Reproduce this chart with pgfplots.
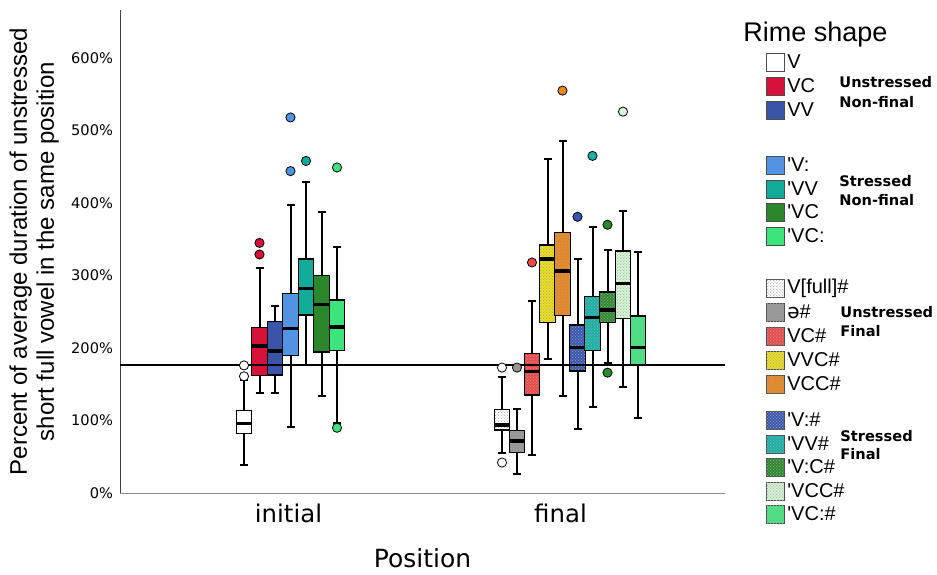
\documentclass[border=0pt]{standalone}
\usepackage{fontspec}
\setmainfont{Liberation Sans}
\newfontfamily\dejavu{DejaVu Sans}
\newfontfamily\legfont{Liberation Sans}
\usepackage{pgfplots}
\pgfplotsset{compat=1.18}
\usepgfplotslibrary{statistics}
\usetikzlibrary{patterns}

% box colours (non-final)
\definecolor{cVC}{RGB}{214,18,58}
\definecolor{cVV}{RGB}{58,84,168}
\definecolor{cVl}{RGB}{82,148,226}
\definecolor{cVVs}{RGB}{18,170,152}
\definecolor{cVCs}{RGB}{44,134,44}
\definecolor{cVCls}{RGB}{60,228,122}
% box colours (final)
\definecolor{cSchwa}{RGB}{150,150,150}
\definecolor{cVCf}{RGB}{240,72,72}
\definecolor{cVVC}{RGB}{236,222,24}
\definecolor{cVCC}{RGB}{234,134,26}
\definecolor{cVlf}{RGB}{54,86,180}
\definecolor{cVVf}{RGB}{20,178,168}
\definecolor{cVlC}{RGB}{42,138,42}
\definecolor{cVCCs}{RGB}{214,246,214}
\definecolor{cVClf}{RGB}{62,232,126}

% fine checker of dots, like the SPSS texture
\pgfdeclarepatternformonly{finedots}{\pgfqpoint{0pt}{0pt}}{\pgfqpoint{1.6pt}{1.6pt}}{\pgfqpoint{1.6pt}{1.6pt}}{%
  \pgfpathcircle{\pgfqpoint{0.4pt}{0.4pt}}{0.33pt}%
  \pgfpathcircle{\pgfqpoint{1.2pt}{1.2pt}}{0.33pt}%
  \pgfusepath{fill}}

\pgfplotsset{
  dotted box/.style={/pgfplots/boxplot/every box/.append style={postaction={pattern=finedots,pattern color=black!35}}},
  outl/.style={only marks,mark=*,mark size=2.3pt,
    mark options={draw=black,fill=#1,line width=0.4pt}},
}

\begin{document}
\begin{tikzpicture}
\path[use as bounding box] (0,0) rectangle (468.5pt,-287pt);
\begin{axis}[
  at={(60pt,-246.5pt)}, anchor=south west,
  x=0.5pt, y=0.3625pt,
  xmin=120, xmax=725, ymin=0, ymax=666,
  axis x line*=bottom, axis y line*=left,
  x axis line style={black!45,-}, y axis line style={black!75,-},
  major tick length=0pt,
  ytick={0,100,...,600},
  yticklabel={\pgfmathprintnumber{\tick}\%},
  /pgf/number format/assume math mode=true,
  yticklabel style={font=\dejavu\fontsize{7.3}{8}\selectfont},
  xtick={288.5,560.5}, xticklabels={initial,final},
  xticklabel style={font=\dejavu\fontsize{12.2}{14}\selectfont,yshift=-2pt},
  xlabel={Position},
  every axis x label/.style={at={(axis description cs:0.5,0)},anchor=center,
    yshift=-32.5pt,font=\dejavu\fontsize{12.5}{14}\selectfont},
  ylabel={Percent of average duration of unstressed\\short full vowel in the same position},
  every axis y label/.style={at={(axis description cs:-0.142,0.5)},rotate=90,anchor=center,
    align=center,font=\fontsize{12}{13.5}\selectfont},
  clip=false,
  boxplot/draw direction=y,
  boxplot/box extend=15.3,
  boxplot/whisker extend=8,
  boxplot/every box/.style={line width=0.6pt},
  boxplot/every median/.style={line width=1.6pt},
  boxplot/every whisker/.style={line width=1pt},
]
% initial
\addplot[draw=black,fill=white,boxplot prepared={draw position=244,
  lower whisker=38.6,lower quartile=82.3,median=96,upper quartile=113.5,upper whisker=156}] coordinates {};
\addplot[draw=black,fill=cVC,boxplot prepared={draw position=259.5,
  lower whisker=137.5,lower quartile=161.8,median=202.8,upper quartile=228.5,upper whisker=310.8}] coordinates {};
\addplot[draw=black,fill=cVV,boxplot prepared={draw position=275,
  lower whisker=137.5,lower quartile=162.8,median=195.9,upper quartile=236.3,upper whisker=258.4}] coordinates {};
\addplot[draw=black,fill=cVl,boxplot prepared={draw position=290.5,
  lower whisker=91.5,lower quartile=190,median=227,upper quartile=275.4,upper whisker=397}] coordinates {};
\addplot[draw=black,fill=cVVs,boxplot prepared={draw position=306,
  lower whisker=176.5,lower quartile=245.5,median=282.3,upper quartile=322.8,upper whisker=428.5}] coordinates {};
\addplot[draw=black,fill=cVCs,boxplot prepared={draw position=321.5,
  lower whisker=134.3,lower quartile=194.5,median=260.2,upper quartile=300.2,upper whisker=388}] coordinates {};
\addplot[draw=black,fill=cVCls,boxplot prepared={draw position=337,
  lower whisker=96,lower quartile=196.3,median=229,upper quartile=266.2,upper whisker=339.8}] coordinates {};
\addplot[outl=white] coordinates {(244,176)(244,161)};
\addplot[outl=cVC] coordinates {(259.5,345)(259.5,329)};
\addplot[outl=cVl] coordinates {(290.5,518)(290.5,444)};
\addplot[outl=cVVs] coordinates {(306,458)};
\addplot[outl=cVCls] coordinates {(337,449)(337,90)};
% final
\addplot[draw=black,fill=white,dotted box,boxplot prepared={draw position=502,
  lower whisker=55.6,lower quartile=86.9,median=93.8,upper quartile=115.4,upper whisker=160.5}] coordinates {};
\addplot[draw=black,fill=cSchwa,dotted box,boxplot prepared={draw position=517,
  lower whisker=26.2,lower quartile=55.6,median=71.7,upper quartile=86,upper whisker=116.3}] coordinates {};
\addplot[draw=black,fill=cVCf,dotted box,boxplot prepared={draw position=532,
  lower whisker=52.4,lower quartile=135.2,median=168,upper quartile=192.6,upper whisker=264.8}] coordinates {};
\addplot[draw=black,fill=cVVC,dotted box,boxplot prepared={draw position=547.5,
  lower whisker=184.4,lower quartile=234.9,median=322.8,upper quartile=342,upper whisker=460.2}] coordinates {};
\addplot[draw=black,fill=cVCC,dotted box,boxplot prepared={draw position=562.5,
  lower whisker=133.8,lower quartile=244.6,median=306.2,upper quartile=359.5,upper whisker=486}] coordinates {};
\addplot[draw=black,fill=cVlf,dotted box,boxplot prepared={draw position=577.5,
  lower whisker=87.8,lower quartile=168.3,median=200.9,upper quartile=231.7,upper whisker=322.8}] coordinates {};
\addplot[draw=black,fill=cVVf,dotted box,boxplot prepared={draw position=592.5,
  lower whisker=118.2,lower quartile=196.3,median=242.5,upper quartile=270.8,upper whisker=367.4}] coordinates {};
\addplot[draw=black,fill=cVlC,dotted box,boxplot prepared={draw position=607.5,
  lower whisker=178.9,lower quartile=235.4,median=252.4,upper quartile=277.2,upper whisker=335.2}] coordinates {};
\addplot[draw=black,fill=cVCCs,dotted box,boxplot prepared={draw position=623,
  lower whisker=146.2,lower quartile=240.9,median=288.7,upper quartile=333.8,upper whisker=389}] coordinates {};
\addplot[draw=black,fill=cVClf,dotted box,boxplot prepared={draw position=638,
  lower whisker=103,lower quartile=177.5,median=200.9,upper quartile=244.1,upper whisker=332.4}] coordinates {};
\addplot[outl=white] coordinates {(502,173)(502,42)};
\addplot[outl=cSchwa] coordinates {(517,173)};
\addplot[outl=cVCf] coordinates {(532,318)};
\addplot[outl=cVCC] coordinates {(562.5,555)};
\addplot[outl=cVlf] coordinates {(577.5,381)};
\addplot[outl=cVVf] coordinates {(592.5,465)};
\addplot[outl=cVlC] coordinates {(607.5,370)(607.5,166)};
\addplot[outl=cVCCs] coordinates {(623,526)};
% reference line
\addplot[black,line width=0.6pt] coordinates {(120,176.5)(725,176.5)};
\end{axis}

% legend, in pixel units of the reference
\begin{scope}[x=0.5pt,y=-0.5pt]
\node[anchor=west,inner sep=0pt,font=\legfont\fontsize{13.5}{15}\selectfont] at (743,35) {Rime shape};
\foreach \yy/\cc/\lab in {62/white/V,86/cVC/VC,110/cVV/VV,165/cVl/'V:,189/cVVs/'VV,212/cVCs/'VC,236/cVCls/'VC:}{
  \filldraw[draw=black!70,fill=\cc,line width=0.5pt] (766,\yy-9) rectangle (784,\yy+9);
  \node[anchor=west,inner sep=0pt,font=\legfont\fontsize{10}{12}\selectfont] at (787,\yy) {\lab};
}
\foreach \yy/\cc/\lab in {288/white/V[full]\#,312/cSchwa/{\dejavu ə}\#,336/cVCf/VC\#,360/cVVC/VVC\#,384/cVCC/VCC\#,
    420/cVlf/'V:\#,444/cVVf/'VV\#,467/cVlC/'V:C\#,491/cVCCs/'VCC\#,514/cVClf/'VC:\#}{
  \filldraw[draw=black!70,fill=\cc,line width=0.5pt,postaction={pattern=finedots,pattern color=black!35}] (766,\yy-9) rectangle (784,\yy+9);
  \node[anchor=west,inner sep=0pt,font=\legfont\fontsize{10}{12}\selectfont] at (787,\yy) {\lab};
}
\begin{scope}[every node/.style={anchor=west,inner sep=0pt,font=\dejavu\bfseries\fontsize{7.3}{9}\selectfont}]
\node at (839,82) {Unstressed};
\node at (839,102) {Non-final};
\node at (839,181) {Stressed};
\node at (839,200) {Non-final};
\node at (840,312) {Unstressed};
\node at (840,331) {Final};
\node at (840,436) {Stressed};
\node at (840,454) {Final};
\end{scope}
\end{scope}
\end{tikzpicture}
\end{document}
